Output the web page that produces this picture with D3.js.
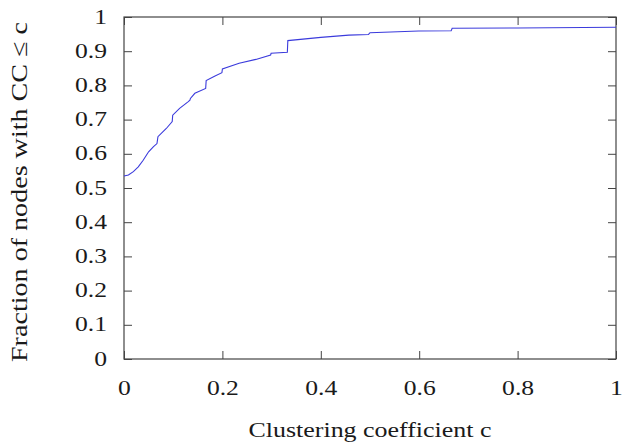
<!DOCTYPE html>
<html>
<head>
<meta charset="utf-8">
<script src="https://cdn.jsdelivr.net/npm/d3@7"></script>
<style>
html,body{margin:0;padding:0;background:#fff;}
svg{display:block;}
text{font-family:"Liberation Serif","Times New Roman",serif;fill:#1a1a1a;}
</style>
</head>
<body>
<svg id="chart" width="622" height="443"></svg>
<script>
// CDF of clustering coefficient
const ccValues = [0, 0.009, 0.019, 0.029, 0.039, 0.050, 0.060, 0.067, 0.069, 0.086, 0.098, 0.099, 0.113, 0.130, 0.134, 0.135, 0.144, 0.166, 0.167, 0.184, 0.199, 0.200, 0.234, 0.268, 0.298, 0.299, 0.332, 0.333, 0.400, 0.457, 0.497, 0.500, 0.599, 0.665, 0.667, 0.800, 1.0];
const fractions = [0.535, 0.538, 0.548, 0.562, 0.581, 0.606, 0.621, 0.630, 0.650, 0.674, 0.694, 0.713, 0.733, 0.752, 0.757, 0.762, 0.777, 0.791, 0.814, 0.827, 0.837, 0.848, 0.865, 0.876, 0.889, 0.894, 0.897, 0.931, 0.9405, 0.947, 0.949, 0.954, 0.959, 0.960, 0.967, 0.968, 0.970];
const xTicks = [0, 0.2, 0.4, 0.6, 0.8, 1];
const yTicks = [0, 0.1, 0.2, 0.3, 0.4, 0.5, 0.6, 0.7, 0.8, 0.9, 1];
const xLabel = "Clustering coefficient c";
const yLabel = "Fraction of nodes with CC \u2264 c";

const svg = d3.select("#chart");
const m = {left:124, right:6, top:17, bottom:84};
const W = 622, H = 443;
const x = d3.scaleLinear().domain([0,1]).range([m.left, W - m.right]);
const y = d3.scaleLinear().domain([0,1]).range([H - m.bottom, m.top]);
const axisColor = "#444";
const tickLen = 8;
const fmt = d => String(d);
const stretch = 1.22;
function widen(sel){
  sel.each(function(){
    const L = this.getComputedTextLength();
    d3.select(this).attr("textLength", L * stretch).attr("lengthAdjust", "spacingAndGlyphs");
  });
}

// frame
svg.append("rect")
  .attr("x", x(0)).attr("y", y(1))
  .attr("width", x(1) - x(0)).attr("height", y(0) - y(1))
  .attr("fill", "none").attr("stroke", axisColor).attr("stroke-width", 1.2);

// bottom axis (inner ticks)
const gB = svg.append("g").attr("transform", `translate(0,${y(0)})`)
  .call(d3.axisBottom(x).tickValues(xTicks).tickSize(-tickLen).tickPadding(0).tickFormat(fmt));
gB.select(".domain").remove();
gB.selectAll("line").attr("stroke", axisColor);
gB.selectAll("text").attr("y", 36).attr("dy", null).attr("font-size", 21)
  .attr("font-family", "Liberation Serif").attr("fill", "#1a1a1a").call(widen);

// top ticks
const gT = svg.append("g").attr("transform", `translate(0,${y(1)})`)
  .call(d3.axisTop(x).tickValues(xTicks).tickSize(-tickLen).tickFormat(""));
gT.select(".domain").remove();
gT.selectAll("line").attr("stroke", axisColor);

// left axis
const gL = svg.append("g").attr("transform", `translate(${x(0)},0)`)
  .call(d3.axisLeft(y).tickValues(yTicks).tickSize(-tickLen).tickPadding(0).tickFormat(fmt));
gL.select(".domain").remove();
gL.selectAll("line").attr("stroke", axisColor);
gL.selectAll("text").attr("x", -17).attr("dy", 6).attr("font-size", 21)
  .attr("font-family", "Liberation Serif").attr("fill", "#1a1a1a").call(widen);

// right ticks
const gR = svg.append("g").attr("transform", `translate(${x(1)},0)`)
  .call(d3.axisRight(y).tickValues(yTicks).tickSize(-tickLen).tickFormat(""));
gR.select(".domain").remove();
gR.selectAll("line").attr("stroke", axisColor);

// curve
const pts = ccValues.map((c, i) => [c, fractions[i]]);
svg.append("path")
  .datum(pts)
  .attr("fill", "none")
  .attr("stroke", "#3b3bdc")
  .attr("stroke-width", 1.1)
  .attr("d", d3.line().x(d => x(d[0])).y(d => y(d[1])));

// labels
svg.append("text")
  .attr("x", 370).attr("y", 437)
  .attr("text-anchor", "middle").attr("font-size", 21)
  .attr("textLength", 243).attr("lengthAdjust", "spacingAndGlyphs")
  .text(xLabel);
svg.append("text")
  .attr("transform", `translate(27,192) rotate(-90)`)
  .attr("text-anchor", "middle").attr("font-size", 23)
  .attr("textLength", 340).attr("lengthAdjust", "spacingAndGlyphs")
  .text(yLabel);
</script>
</body>
</html>
